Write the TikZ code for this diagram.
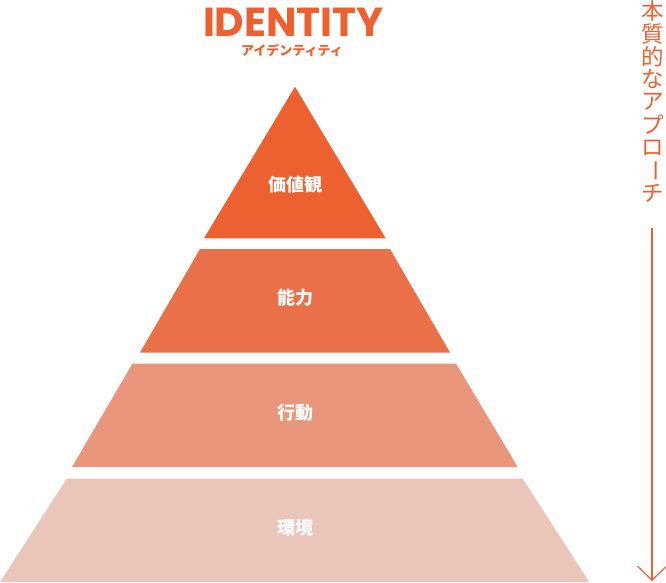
\documentclass[tikz,border=0pt]{standalone}
\usepackage{fontspec}
\setmainfont{Poppins}
\newfontfamily\jpfont{Noto Sans CJK JP}
\usetikzlibrary{arrows.meta}
\definecolor{ctitle}{HTML}{EE602F}
\definecolor{cone}{HTML}{ED6030}
\definecolor{ctwo}{HTML}{EA704A}
\definecolor{cthree}{HTML}{EA967C}
\definecolor{cfour}{HTML}{EAC6BA}
\tikzset{
  tierlabel/.style={text=white, font=\jpfont\bfseries\fontsize{18}{18}\selectfont, inner sep=0pt},
  vchar/.style={text=ctitle, font=\jpfont\fontsize{22.5}{22.5}\selectfont, inner sep=0pt},
}
\begin{document}
\begin{tikzpicture}[x=1pt,y=-1pt]
\useasboundingbox (0,0) rectangle (666,582);
% tiers
\fill[cone] (295,86.7) -- (385.7,238.3) -- (204,238.3) -- cycle;
\fill[ctwo] (200,249) -- (390,249) -- (450,352.5) -- (140,352.5) -- cycle;
\fill[cthree] (132.5,363.5) -- (456,363.5) -- (517.7,467) -- (72,467) -- cycle;
\fill[cfour] (66.7,478.7) -- (522.7,478.7) -- (589.3,582) -- (0,582) -- cycle;
% labels
\node[tierlabel] (l1) at (295,184.5) {価値観};
\node[tierlabel] (l2) at (295,297.5) {能力};
\node[tierlabel] (l3) at (295,413) {行動};
\node[tierlabel] (l4) at (295,528) {環境};
% title
\node[text=ctitle, font=\bfseries\fontsize{40.5}{40.5}\selectfont, inner sep=0pt, text depth=0pt, anchor=base] (title) at (293.4,36) {IDENTITY};
\node[text=ctitle, font=\jpfont\bfseries\fontsize{13}{13}\selectfont, inner sep=0pt, text depth=0pt, text height=9pt] (sub) at (292,51) {アイデンティティ};
% vertical text
\node[vchar] (v1) at (652.5,11) {本};
\node[vchar] (v2) at (652.5,33.8) {質};
\node[vchar] (v3) at (652.5,56.6) {的};
\node[vchar] (v4) at (652.5,79.4) {な};
\node[vchar] (v5) at (652.5,102.2) {ア};
\node[vchar] (v6) at (652.5,125) {プ};
\node[vchar] (v7) at (652.5,147.8) {ロ};
\node[vchar, rotate=-90] (v8) at (652.5,170.6) {ー};
\node[vchar] (v9) at (652.5,193.4) {チ};
\coordinate (astart) at (652,228);
\coordinate (aend) at (652,581);
\draw[ctitle, line width=1.2pt, -{Straight Barb[length=14pt,width=29pt,line width=1.2pt]}] (astart) -- (aend);
\end{tikzpicture}
\end{document}
